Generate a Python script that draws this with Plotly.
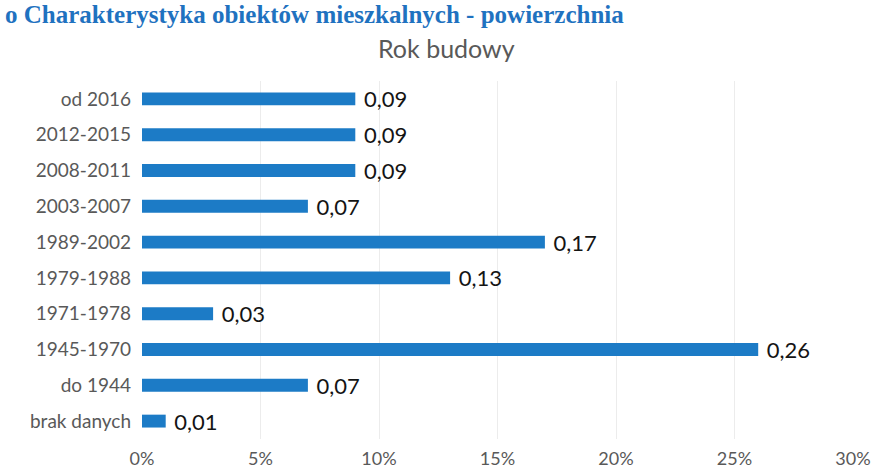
import plotly.graph_objects as go

# Year-of-construction groups, listed top to bottom
categories = ["od 2016", "2012-2015", "2008-2011", "2003-2007", "1989-2002",
              "1979-1988", "1971-1978", "1945-1970", "do 1944", "brak danych"]
shares = [0.09, 0.09, 0.09, 0.07, 0.17, 0.13, 0.03, 0.26, 0.07, 0.01]
x_ticks = [0, 0.05, 0.10, 0.15, 0.20, 0.25, 0.30]

heading = "o Charakterystyka obiektów mieszkalnych - powierzchnia"
chart_title = "Rok budowy"

BAR_BLUE = "#1c7bc6"
GREY_TEXT = "#595959"
FONT = "Lato, 'Open Sans', sans-serif"

fig = go.Figure(
    go.Bar(
        x=shares,
        y=categories,
        orientation="h",
        width=0.36,
        marker=dict(color=BAR_BLUE, line=dict(width=0)),
        text=shares,
        texttemplate=" %{x:.2f}",
        textposition="outside",
        constraintext="none",
        textfont=dict(family=FONT, size=22, color="#141414"),
        cliponaxis=False,
    )
)

fig.update_layout(
    width=877,
    height=472,
    margin=dict(l=142, r=24, t=81, b=33, autoexpand=False),
    paper_bgcolor="white",
    plot_bgcolor="white",
    separators=", ",
    showlegend=False,
    font=dict(family=FONT, color=GREY_TEXT),
    xaxis=dict(
        range=[0, 0.30],
        tickvals=x_ticks,
        tickformat=".0%",
        showgrid=True,
        gridcolor="#ececec",
        gridwidth=1,
        zeroline=False,
        showline=False,
        ticks="",
        automargin=False,
        tickfont=dict(family=FONT, size=18, color=GREY_TEXT),
        ticklabelstandoff=7,
    ),
    yaxis=dict(
        autorange="reversed",
        showgrid=False,
        zeroline=False,
        showline=False,
        ticks="",
        automargin=False,
        tickfont=dict(family=FONT, size=19, color=GREY_TEXT),
        ticklabelstandoff=10,
    ),
    annotations=[
        dict(
            text=chart_title,
            xref="paper", yref="paper",
            x=(446 - 142) / 711, y=1 + (81 - 48) / 358,
            xanchor="center", yanchor="middle",
            showarrow=False,
            font=dict(family=FONT, size=25, color=GREY_TEXT),
        ),
        dict(
            text="<b>" + heading + "</b>",
            xref="paper", yref="paper",
            x=(3 - 142) / 711, y=1 + (81 + 1) / 358,
            xanchor="left", yanchor="top",
            showarrow=False,
            font=dict(family="'Liberation Serif', serif", size=25, color="#1f72c0"),
        ),
    ],
)

fig.write_html("out.html")
